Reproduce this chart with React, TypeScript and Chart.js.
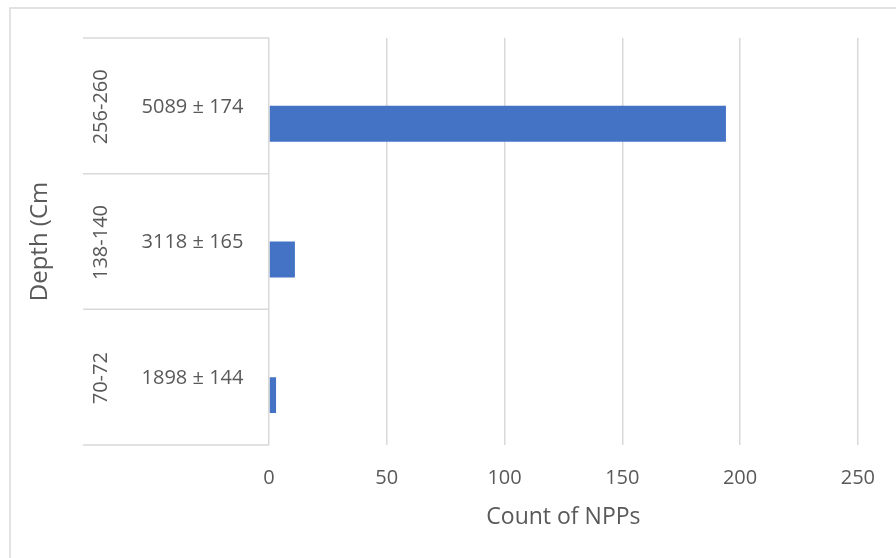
import React, { useEffect, useRef } from 'react';
import { Chart, registerables } from 'chart.js';

Chart.register(...registerables);

// Categories (top to bottom as displayed)
const depthLabels = ['256-260', '138-140', '70-72'];
const ageLabels = ['5089 ± 174', '3118 ± 165', '1898 ± 144'];
// Series values
const nppCounts = [194, 11, 3];
const emptySeries = [null, null, null];
// Axis ticks
const xTicks = [0, 50, 100, 150, 200, 250];

const yTitle = 'Depth (Cm';
const xTitle = 'Count of NPPs';

const FONT = "'Open Sans'";
const TEXT = '#595959';
const GRID = '#d9d9d9';

const multiLevelAxis = {
  id: 'multiLevelAxis',
  beforeDraw(chart: any) {
    const { ctx } = chart;
    ctx.save();
    ctx.fillStyle = '#ffffff';
    ctx.fillRect(0, 0, chart.width, chart.height);
    ctx.strokeStyle = GRID;
    ctx.lineWidth = 1.5;
    ctx.strokeRect(10, 8, chart.width + 40, chart.height + 40);
    ctx.restore();
  },
  afterDraw(chart: any) {
    const { ctx, chartArea } = chart;
    const y = chart.scales.y;
    const n = depthLabels.length;
    const step = n > 1 ? y.getPixelForValue(1) - y.getPixelForValue(0) : chartArea.bottom - chartArea.top;
    ctx.save();
    // category separator lines
    ctx.strokeStyle = GRID;
    ctx.lineWidth = 1.5;
    for (let i = 0; i <= n; i++) {
      const py = y.getPixelForValue(0) - step / 2 + i * step;
      ctx.beginPath();
      ctx.moveTo(83, py);
      ctx.lineTo(chartArea.left, py);
      ctx.stroke();
    }
    ctx.fillStyle = TEXT;
    // inner labels
    ctx.font = `20px ${FONT}`;
    ctx.textAlign = 'center';
    ctx.textBaseline = 'middle';
    for (let i = 0; i < n; i++) {
      const py = y.getPixelForValue(i);
      ctx.fillText(ageLabels[i], 192.5, py + 1);
    }
    // outer rotated labels
    for (let i = 0; i < n; i++) {
      const py = y.getPixelForValue(i);
      ctx.save();
      ctx.translate(101, py + 1);
      ctx.rotate(-Math.PI / 2);
      ctx.fillText(depthLabels[i], 0, 0);
      ctx.restore();
    }
    // y axis title
    ctx.font = `24px ${FONT}`;
    ctx.save();
    ctx.translate(40, (chartArea.top + chartArea.bottom) / 2);
    ctx.rotate(-Math.PI / 2);
    ctx.fillText(yTitle, 0, 0);
    ctx.restore();
    ctx.restore();
  },
};

export default function App() {
  const canvasRef = useRef<HTMLCanvasElement | null>(null);

  useEffect(() => {
    const canvas = canvasRef.current;
    if (!canvas) return;
    const chart = new Chart(canvas, {
      type: 'bar',
      data: {
        labels: depthLabels,
        datasets: [
          { label: 'empty', data: emptySeries as any, backgroundColor: '#4472C4' },
          { label: xTitle, data: nppCounts, backgroundColor: '#4472C4' },
        ],
      },
      options: {
        indexAxis: 'y',
        responsive: false,
        animation: false,
        devicePixelRatio: 1,
        layout: { padding: { left: 0, top: 38, right: 36, bottom: 0 } },
        datasets: { bar: { categoryPercentage: 0.53, barPercentage: 1 } } as any,
        plugins: { legend: { display: false }, tooltip: { enabled: false } },
        scales: {
          y: {
            type: 'category',
            grid: { display: false },
            border: { display: false },
            ticks: { display: false },
            afterFit(scale: any) {
              scale.width = 269;
            },
          },
          x: {
            type: 'linear',
            position: 'bottom',
            min: xTicks[0],
            max: xTicks[xTicks.length - 1],
            afterBuildTicks(scale: any) {
              scale.ticks = xTicks.map((v) => ({ value: v }));
            },
            grid: { color: GRID, lineWidth: 1.5, drawTicks: false },
            border: { display: false },
            ticks: { color: TEXT, font: { family: FONT, size: 20 }, padding: 21, maxRotation: 0 },
            title: {
              display: true,
              text: xTitle,
              color: TEXT,
              font: { family: FONT, size: 23 },
              padding: { top: 0, bottom: 27 },
            },
            afterFit(scale: any) {
              scale.height = 113;
            },
          },
        },
      },
      plugins: [multiLevelAxis],
    });
    return () => chart.destroy();
  }, []);

  return (
    <div style={{ position: 'absolute', left: 0, top: 0, width: 896, height: 558, background: '#fff' }}>
      <canvas ref={canvasRef} width={896} height={558} style={{ display: 'block' }} />
    </div>
  );
}
